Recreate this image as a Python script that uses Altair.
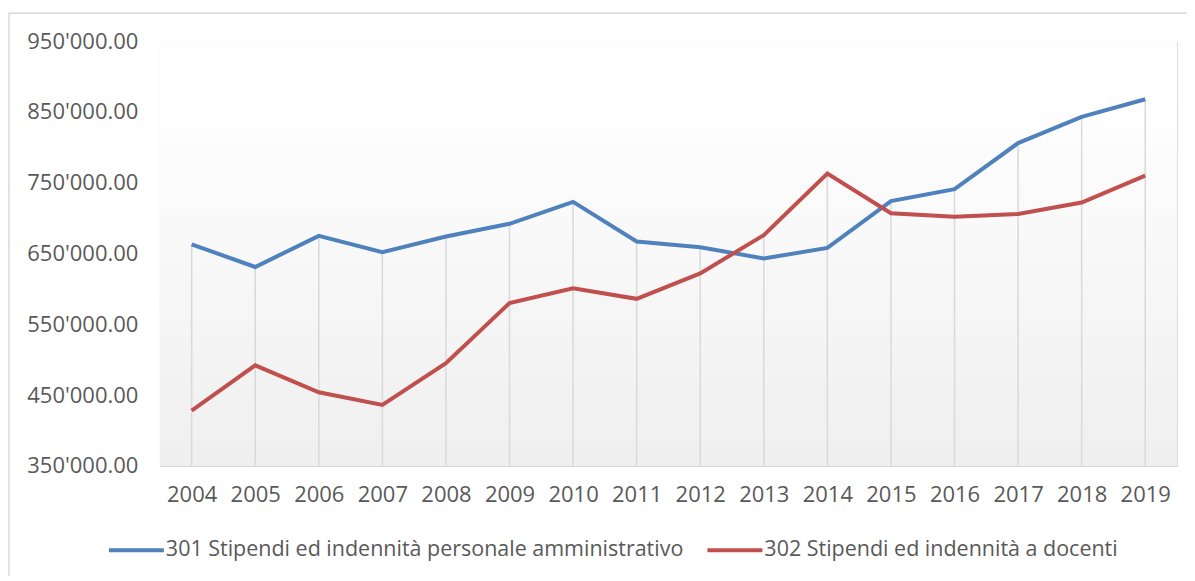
import altair as alt
import pandas as pd

years = [str(y) for y in range(2004, 2020)]
series_names = [
    "301 Stipendi ed indennità personale amministrativo",
    "302 Stipendi ed indennità a docenti",
]
amministrativo = [663000, 631000, 675000, 652000, 674000, 692000, 723000, 667000,
                  659000, 643000, 658000, 724000, 741000, 806000, 843000, 868000]
docenti = [428000, 492000, 454000, 436000, 495000, 580000, 601000, 586000,
           622000, 676000, 763000, 707000, 702000, 706000, 722000, 760000]
y_ticks = [350000, 450000, 550000, 650000, 750000, 850000, 950000]
colors = ["#4F81BD", "#C0504D"]

FONT = "Open Sans"
FS = 22
W, H = 1018, 425

long = pd.DataFrame({
    "year": years * 2,
    "series": [series_names[0]] * len(years) + [series_names[1]] * len(years),
    "value": amministrativo + docenti,
})
drops = pd.DataFrame({
    "year": years,
    "low": [y_ticks[0]] * len(years),
    "high": [max(a, b) for a, b in zip(amministrativo, docenti)],
})

x_enc = alt.X("year:O", scale=alt.Scale(type="point", padding=0.5, domain=years),
              axis=alt.Axis(title=None, labelAngle=0, ticks=False, domain=True,
                            domainColor="#d9d9d9", domainWidth=1.5, grid=False,
                            labelFont=FONT, labelFontSize=FS, labelColor="#595959",
                            labelPadding=19))
y_scale = alt.Scale(domain=[y_ticks[0], y_ticks[-1]], nice=False, zero=False)

frame = alt.Chart(pd.DataFrame({"k": [0]})).mark_rect(
    fill=None, stroke="#d9d9d9", strokeWidth=1.5
).encode(x=alt.value(-151), x2=alt.value(1045), y=alt.value(-28), y2=alt.value(560))

bg = alt.Chart(pd.DataFrame({"k": [0]})).mark_rect(
    color=alt.Gradient(
        gradient="linear", x1=0, y1=0, x2=0, y2=1,
        stops=[alt.GradientStop(offset=0, color="#ffffff"),
               alt.GradientStop(offset=0.12, color="#ffffff"),
               alt.GradientStop(offset=1, color="#efefef")],
    )
).encode(x=alt.value(0), x2=alt.value(W), y=alt.value(0), y2=alt.value(H))

rules = alt.Chart(drops).mark_rule(color="#d9d9d9", strokeWidth=1.5).encode(
    x=x_enc,
    y=alt.Y("low:Q", scale=y_scale, title=None),
    y2="high:Q",
)

lines = alt.Chart(long).mark_line(strokeWidth=4, strokeJoin="miter", strokeCap="butt").encode(
    x=x_enc,
    y=alt.Y("value:Q", scale=y_scale,
            axis=alt.Axis(title=None, values=y_ticks, grid=False, ticks=False, domain=False,
                          labelFont=FONT, labelFontSize=FS, labelColor="#595959",
                          labelPadding=22,
                          labelExpr="replace(format(datum.value, ',.2f'), ',', \"'\")")),
    color=alt.Color("series:N", scale=alt.Scale(domain=series_names, range=colors),
                    legend=alt.Legend(title=None, orient="none", direction="horizontal",
                                      legendX=-53, legendY=480, symbolType="stroke",
                                      symbolSize=3025, symbolStrokeWidth=4,
                                      labelFont=FONT, labelFontSize=21.5, labelColor="#595959",
                                      labelOffset=0, labelLimit=800, columnPadding=15,
                                      padding=0)),
)

chart = alt.layer(frame, bg, rules, lines).properties(
    width=W, height=H,
    autosize=alt.AutoSizeParams(type="none"),
    padding={"left": 152, "top": 33, "right": 10, "bottom": 110},
).configure_view(stroke=None).configure(background="white")

chart.save("out.html", embed_options={"renderer": "svg", "actions": False})
